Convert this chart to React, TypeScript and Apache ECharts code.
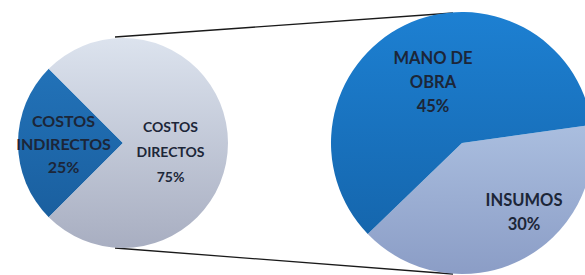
import React, { useEffect, useRef } from "react";
import * as echarts from "echarts";

const leftNames = ["COSTOS INDIRECTOS", "COSTOS DIRECTOS"];
const leftLabels = ["COSTOS\nINDIRECTOS", "COSTOS\nDIRECTOS"];
const leftValues = [25, 75];
const rightNames = ["INSUMOS", "MANO DE OBRA"];
const rightLabels = ["INSUMOS", "MANO DE\nOBRA"];
const rightValues = [30, 45];

const grad = (a: string, b: string) =>
  new echarts.graphic.LinearGradient(0, 0, 0, 1, [
    { offset: 0, color: a },
    { offset: 1, color: b },
  ]);

export default function App() {
  const ref = useRef<HTMLDivElement>(null);
  useEffect(() => {
    if (!ref.current) return;
    const chart = echarts.init(ref.current, null, { renderer: "svg" });
    const leftColors = [grad("#2272b8", "#1a5f9f"), grad("#dce3ee", "#a8aec1")];
    const rightColors = [grad("#aabedf", "#8b9dc6"), grad("#1d80d2", "#1566ad")];
    const leftOffsets = [
      [-4, 0],
      [-8, 8],
    ];
    const rightOffsets = [
      [32, 7],
      [1, 1],
    ];
    const leftSizes = [16, 14];
    const leftLineHeights = [23, 25];
    const labelStyle = {
      show: true,
      position: "inside",
      fontFamily: "Lato",
      fontWeight: "bold",
      color: "#1c2638",
      align: "center",
    };
    chart.setOption({
      animation: false,
      series: [
        {
          type: "pie",
          center: [123, 143],
          radius: 105,
          startAngle: 225,
          clockwise: true,
          silent: true,
          labelLine: { show: false },
          label: { ...labelStyle },
          labelLayout: (p: any) => ({ dx: leftOffsets[p.dataIndex][0], dy: leftOffsets[p.dataIndex][1] }),
          data: leftValues.map((v, i) => ({
            name: leftNames[i],
            value: v,
            itemStyle: { color: leftColors[i] },
            label: {
              formatter: leftLabels[i] + "\n" + v + "%",
              fontSize: leftSizes[i],
              lineHeight: leftLineHeights[i],
            },
          })),
        },
        {
          type: "pie",
          center: [462, 143],
          radius: 131,
          startAngle: 8,
          clockwise: true,
          silent: true,
          labelLine: { show: false },
          label: { ...labelStyle, fontSize: 16.5, lineHeight: 24 },
          labelLayout: (p: any) => ({ dx: rightOffsets[p.dataIndex][0], dy: rightOffsets[p.dataIndex][1] }),
          data: rightValues.map((v, i) => ({
            name: rightNames[i],
            value: v,
            itemStyle: { color: rightColors[i] },
            label: { formatter: rightLabels[i] + "\n" + v + "%" },
          })),
        },
      ],
      graphic: [
        {
          type: "line",
          shape: { x1: 115, y1: 37, x2: 453, y2: 13 },
          style: { stroke: "#1a1a1a", lineWidth: 1.3 },
        },
        {
          type: "line",
          shape: { x1: 115, y1: 248, x2: 453, y2: 274 },
          style: { stroke: "#1a1a1a", lineWidth: 1.3 },
        },
      ],
    });
    return () => chart.dispose();
  }, []);
  return <div ref={ref} style={{ width: 585, height: 275, position: "absolute", left: 0, top: 0 }} />;
}
